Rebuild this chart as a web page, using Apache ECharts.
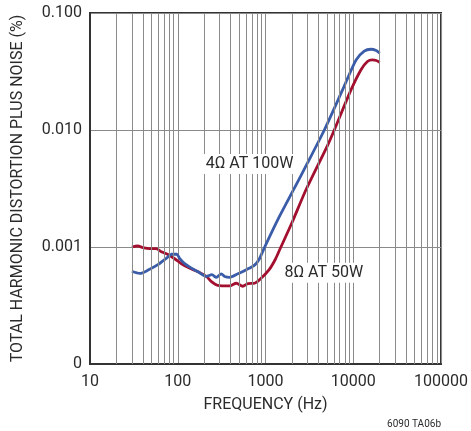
<!DOCTYPE html>
<html>
<head>
<meta charset="utf-8">
<script src="https://cdn.jsdelivr.net/npm/echarts@6/dist/echarts.min.js"></script>
<style>
  html, body { margin: 0; padding: 0; background: #fff; }
  #chart { width: 471px; height: 431px; }
</style>
</head>
<body>
<div id="chart"></div>
<script>
// 4 ohm at 100W  [frequency Hz, THD+N %]
var blue4Ohm = [
  [30, 0.00062], [37, 0.000595], [46, 0.000635], [60, 0.00071], [74, 0.0008],
  [85, 0.000867], [97, 0.00087], [105, 0.0008], [120, 0.00072], [143, 0.00066],
  [170, 0.000615], [212, 0.00056], [245, 0.00058], [275, 0.00055], [314, 0.00059],
  [343, 0.00056], [390, 0.00055], [485, 0.00059], [605, 0.00064], [750, 0.0007],
  [850, 0.00079], [960, 0.00097], [1400, 0.00175], [2140, 0.0032], [3000, 0.0052],
  [4680, 0.01], [7550, 0.022], [10740, 0.0396], [13330, 0.0473], [15900, 0.049],
  [18240, 0.0478], [20000, 0.0453]
]
// 8 ohm at 50W
var red8Ohm = [
  [30, 0.001], [35, 0.00102], [40, 0.00099], [48, 0.00097], [57, 0.00097],
  [65, 0.00091], [78, 0.00086], [93, 0.00079], [110, 0.00072], [136, 0.00066],
  [170, 0.000615], [212, 0.00056], [242, 0.000505], [285, 0.00047], [390, 0.000465],
  [465, 0.00049], [550, 0.000462], [630, 0.000487], [750, 0.00049], [890, 0.00054],
  [1100, 0.00064], [1300, 0.00079], [1480, 0.00098], [2000, 0.00161], [2900, 0.0031],
  [5100, 0.0074], [6080, 0.01], [9420, 0.022], [12200, 0.0326], [14500, 0.0385],
  [16500, 0.0397], [18300, 0.0393], [20000, 0.0378]
]
// minor vertical grid lines (log decades)
var minorFreqs = [
  20, 30, 40, 50, 60, 70, 80, 90,
  200, 300, 400, 500, 600, 700, 800, 900,
  2000, 3000, 4000, 5000, 6000, 7000, 8000, 9000,
  20000, 30000, 40000, 50000, 60000, 70000, 80000, 90000
]
var yTickLabels = { '0.0001': '0', '0.001': '0.001', '0.01': '0.010', '0.1': '0.100' }
var label4Ohm = { text: '4Ω AT 100W', at: [658, 0.00512] }
var label8Ohm = { text: '8Ω AT 50W', at: [4620, 0.000603] }

var font = 'Roboto'
var textColor = '#2b2b2b'
var gridColor = '#8a8a8a'

var chart = echarts.init(document.getElementById('chart'))

function noteLabel(item) {
  return {
    symbol: 'rect',
    symbolSize: 1,
    silent: true,
    itemStyle: { color: 'rgba(0,0,0,0)' },
    label: {
      show: true,
      position: 'inside',
      formatter: item.text,
      fontFamily: font,
      fontSize: 16,
      color: textColor,
      backgroundColor: '#fff',
      padding: [2, 3]
    },
    data: [{ coord: item.at }]
  }
}

chart.setOption({
  animation: false,
  grid: {
    left: 90,
    right: 29,
    top: 13,
    bottom: 67,
    show: true,
    borderColor: '#333',
    borderWidth: 2,
    backgroundColor: 'transparent'
  },
  xAxis: {
    type: 'log',
    logBase: 10,
    min: 10,
    max: 100000,
    name: 'FREQUENCY (Hz)',
    nameLocation: 'middle',
    nameGap: 33,
    nameTextStyle: { fontFamily: font, fontSize: 16, color: textColor },
    axisLine: { show: true, lineStyle: { color: '#333', width: 2 } },
    axisTick: { show: false },
    axisLabel: {
      fontFamily: font,
      fontSize: 16,
      color: textColor,
      margin: 10,
      formatter: function (v) { return String(Math.round(v)) }
    },
    splitLine: { show: true, lineStyle: { color: gridColor, width: 1 } }
  },
  yAxis: {
    type: 'log',
    logBase: 10,
    min: 0.0001,
    max: 0.1,
    name: 'TOTAL HARMONIC DISTORTION PLUS NOISE (%)',
    nameLocation: 'middle',
    nameGap: 64,
    nameTextStyle: { fontFamily: font, fontSize: 16, color: textColor },
    axisLine: { show: true, lineStyle: { color: '#333', width: 2 } },
    axisTick: { show: false },
    axisLabel: {
      fontFamily: font,
      fontSize: 16,
      color: textColor,
      margin: 8,
      formatter: function (v) {
        var key = String(+v.toPrecision(3))
        return yTickLabels[key] !== undefined ? yTickLabels[key] : ''
      }
    },
    splitLine: { show: true, lineStyle: { color: gridColor, width: 1 } }
  },
  series: [
    {
      name: 'minor grid',
      type: 'line',
      data: [],
      silent: true,
      markLine: {
        silent: true,
        symbol: 'none',
        label: { show: false },
        lineStyle: { color: gridColor, width: 1, type: 'solid' },
        data: minorFreqs.map(function (f) { return { xAxis: f } })
      }
    },
    {
      name: '8Ω AT 50W',
      type: 'line',
      data: red8Ohm,
      showSymbol: false,
      smooth: 0.25,
      lineStyle: { color: '#a3102f', width: 2.8 },
      itemStyle: { color: '#a3102f' },
      markPoint: noteLabel(label8Ohm)
    },
    {
      name: '4Ω AT 100W',
      type: 'line',
      data: blue4Ohm,
      showSymbol: false,
      smooth: 0.25,
      lineStyle: { color: '#3a5ca9', width: 2.8 },
      itemStyle: { color: '#3a5ca9' },
      markPoint: noteLabel(label4Ohm)
    }
  ],
  graphic: [{
    type: 'text',
    right: 30,
    bottom: 2,
    style: { text: '6090 TA06b', fontFamily: font, fontSize: 10, fill: textColor }
  }]
})
</script>
</body>
</html>
